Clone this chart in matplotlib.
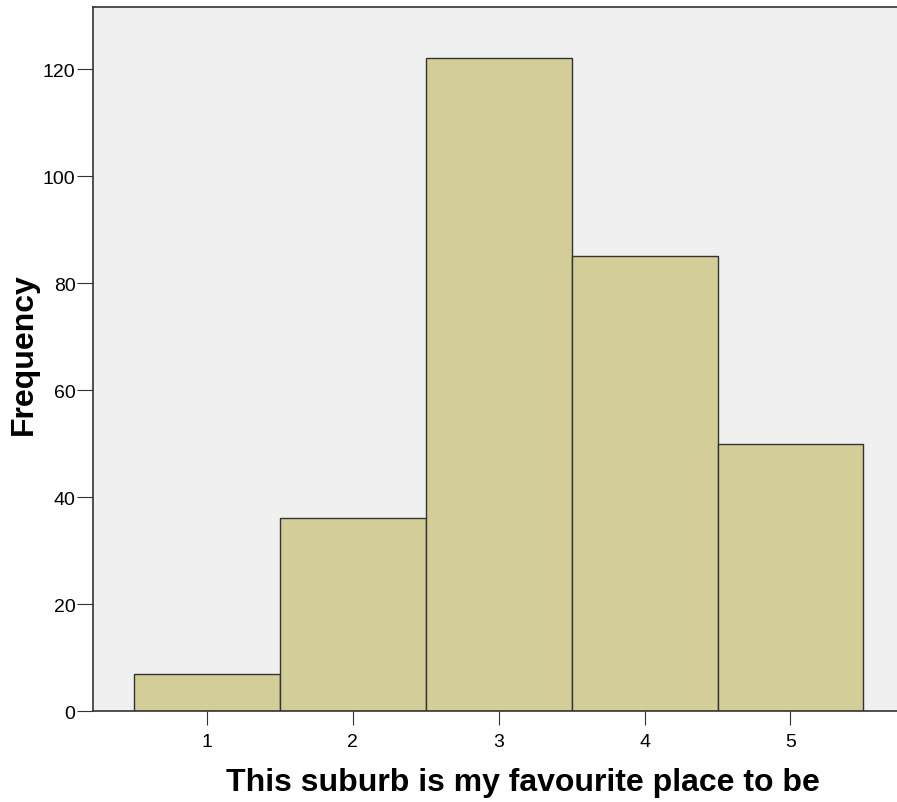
import matplotlib.pyplot as plt

plt.rcParams['font.family'] = ['Liberation Sans', 'DejaVu Sans']

# cevab kategoriyalari ve tezlikler
categories = [1, 2, 3, 4, 5]
frequency = [7, 36, 122, 85, 50]

fig = plt.figure(figsize=(8.97, 8.03), dpi=100)
ax = fig.add_axes([0.1042, 0.1133, 0.8958, 0.8767])
ax.set_facecolor('#F0F0F0')

ax.bar(categories, frequency, width=1.0, color='#D3CE98', edgecolor='#333333', linewidth=1.0, zorder=2)

ax.set_xlim(0.223, 5.73)
ax.set_ylim(0, 131.6)
ax.set_xticks(categories)
ax.set_yticks([0, 20, 40, 60, 80, 100, 120])
ax.tick_params(direction='out', width=0.8, color='#333333', labelsize=14)
ax.tick_params(axis='y', length=11.5, pad=1.5)
ax.tick_params(axis='x', length=10, pad=6)

for s in ['left', 'bottom', 'top']:
    ax.spines[s].set_color('#333333')
    ax.spines[s].set_linewidth(1.2)
ax.spines['right'].set_visible(False)

ax.set_xlabel('This suburb is my favourite place to be', fontsize=23, fontweight='bold', labelpad=12)
ax.set_ylabel('Frequency', fontsize=23, fontweight='bold', labelpad=2.5)
ax.xaxis.label.set_x(0.5345)
ax.yaxis.label.set_y(0.5085)

fig.savefig('out.png', dpi=100)
